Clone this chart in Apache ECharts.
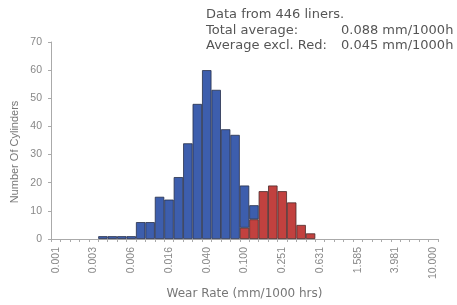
<!DOCTYPE html>
<html>
<head>
<meta charset="utf-8">
<script src="https://cdn.jsdelivr.net/npm/echarts@6/dist/echarts.min.js"></script>
<style>
  html, body { margin: 0; padding: 0; background: #fff; }
  #chart { width: 457px; height: 305px; }
</style>
</head>
<body>
<div id="chart"></div>
<script>
// wear rate bins (mm/1000 hrs), 0.1 decade each
var categories = [
  "0.001", "0.001", "0.002", "0.002", "0.003", "0.003", "0.004", "0.005", "0.006", "0.008",
  "0.010", "0.013", "0.016", "0.020", "0.025", "0.032", "0.040", "0.050", "0.063", "0.079",
  "0.100", "0.126", "0.158", "0.200", "0.251", "0.316", "0.398", "0.501", "0.631", "0.794",
  "1.000", "1.259", "1.585", "1.995", "2.512", "3.162", "3.981", "5.012", "6.310", "7.943",
  "10.000"
];
var blueCounts = [
  0, 0, 0, 0, 0, 1, 1, 1, 1, 6,
  6, 15, 14, 22, 34, 48, 60, 53, 39, 37,
  15, 5, 0, 0, 0, 0, 0, 0, 0, 0,
  0, 0, 0, 0, 0, 0, 0, 0, 0, 0,
  0
];
var redCounts = [
  0, 0, 0, 0, 0, 0, 0, 0, 0, 0,
  0, 0, 0, 0, 0, 0, 0, 0, 0, 0,
  4, 7, 17, 19, 17, 13, 5, 2, 0, 0,
  0, 0, 0, 0, 0, 0, 0, 0, 0, 0,
  0
];
var yTicks = [0, 70, 10]; // min, max, interval

var FONT = "Liberation Sans";
var WIDE = "DejaVu Sans";
var chart = echarts.init(document.getElementById("chart"));

function noZero(arr) {
  return arr.map(function (v) { return v === 0 ? "-" : v; });
}

var note = "13px " + WIDE;
var option = {
  animation: false,
  textStyle: { fontFamily: FONT },
  grid: { left: 51, right: 19, top: 42, bottom: 63 },
  graphic: [
    { type: "text", left: 206, top: 8, style: { text: "Data from 446 liners.", font: note, fill: "#555" } },
    { type: "text", left: 206, top: 24, style: { text: "Total average:", font: note, fill: "#555" } },
    { type: "text", left: 341, top: 24, style: { text: "0.088 mm/1000h", font: note, fill: "#555" } },
    { type: "text", left: 206, top: 39, style: { text: "Average excl. Red:", font: note, fill: "#555" } },
    { type: "text", left: 341, top: 39, style: { text: "0.045 mm/1000h", font: note, fill: "#555" } },
    {
      type: "text", x: 9, y: 152, rotation: Math.PI / 2,
      style: { text: "Number Of Cylinders", font: "11px " + FONT, fill: "#777", align: "center", verticalAlign: "top" }
    }
  ],
  xAxis: {
    type: "category",
    data: categories,
    boundaryGap: true,
    name: "Wear Rate (mm/1000 hrs)",
    nameLocation: "middle",
    nameGap: 49,
    nameTextStyle: { color: "#777", fontSize: 12, fontFamily: WIDE },
    axisLine: { lineStyle: { color: "#aaa", width: 1 } },
    axisTick: { show: true, interval: 0, length: 3, lineStyle: { color: "#aaa" } },
    axisLabel: { interval: 3, rotate: 90, color: "#888", fontSize: 10.5, margin: 8, fontFamily: FONT }
  },
  yAxis: {
    type: "value",
    min: yTicks[0],
    max: yTicks[1],
    interval: yTicks[2],
    axisLine: { show: true, lineStyle: { color: "#aaa" } },
    axisTick: { show: true, length: 3, lineStyle: { color: "#aaa" } },
    axisLabel: { color: "#888", fontSize: 10.5, margin: 9, fontFamily: FONT },
    splitLine: { show: false }
  },
  series: [
    {
      name: "Red",
      type: "bar",
      stack: "total",
      data: noZero(redCounts),
      barCategoryGap: 0,
      itemStyle: { color: "#c2413f", borderColor: "#4a2a2a", borderWidth: 0.8 }
    },
    {
      name: "Blue",
      type: "bar",
      stack: "total",
      data: noZero(blueCounts),
      barCategoryGap: 0,
      itemStyle: { color: "#3d5ead", borderColor: "#27304a", borderWidth: 0.8 }
    }
  ]
};
chart.setOption(option);
</script>
</body>
</html>
